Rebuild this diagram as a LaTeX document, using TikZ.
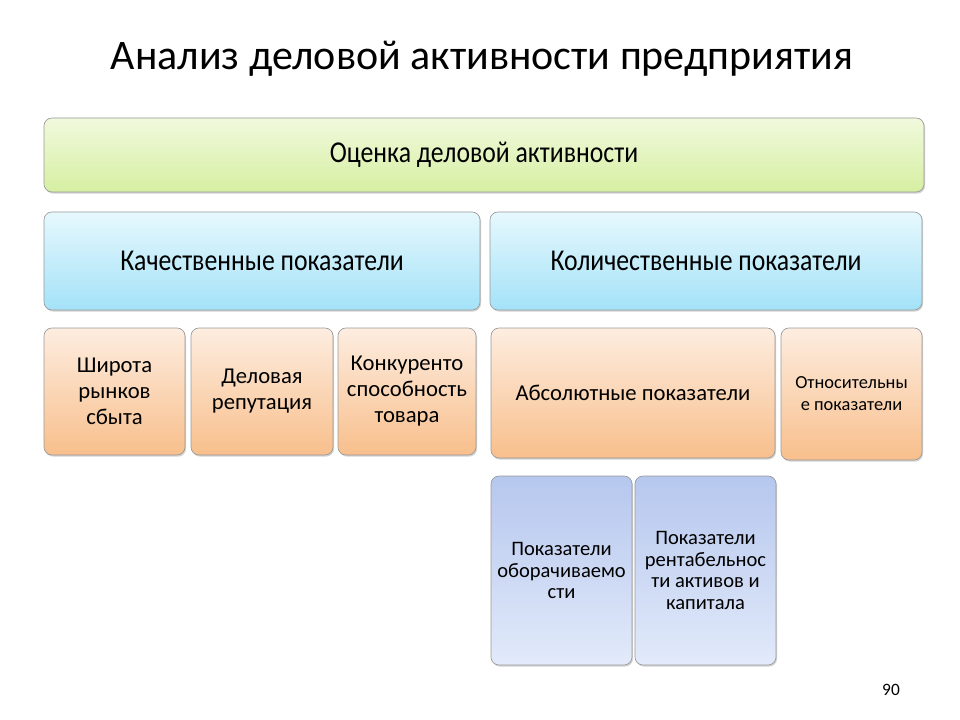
\documentclass[tikz,border=0pt]{standalone}
\usepackage{fontspec}
\setmainfont{Carlito}
\newfontfamily\narrowfont[FakeStretch=0.85]{Carlito}
\usetikzlibrary{positioning,shadows}

\definecolor{grntop}{HTML}{F1F9DD}
\definecolor{grnbot}{HTML}{D6EFA2}
\definecolor{blutop}{HTML}{E6F8FD}
\definecolor{blubot}{HTML}{A4E2F8}
\definecolor{ortop}{HTML}{FDEDE0}
\definecolor{orbot}{HTML}{F8BF8C}
\definecolor{vitop}{HTML}{B6C7EE}
\definecolor{vibot}{HTML}{E2EAFA}

\tikzset{
  box/.style={rounded corners=6pt, draw=gray!80, line width=0.5pt, shading=axis,
              drop shadow={shadow xshift=0.8pt, shadow yshift=-1.2pt, opacity=0.35},
              align=center, inner sep=2pt},
  grnbox/.style={box, top color=grntop, bottom color=grnbot},
  blubox/.style={box, top color=blutop, bottom color=blubot},
  orbox/.style={box, top color=ortop, bottom color=orbot},
  vibox/.style={box, top color=vitop, bottom color=vibot},
  headtxt/.style={font={\narrowfont\fontsize{22.7}{26}\selectfont}}
}

\begin{document}
\begin{tikzpicture}[x=0.75pt, y=-0.75pt]
  \useasboundingbox[fill=white] (0,0) rectangle (960,720);

  \node[font={\fontsize{31.5}{36}\selectfont}] (title) at (482,59) {Анализ деловой активности предприятия};

  \node[grnbox, headtxt, minimum width=660pt, minimum height=55.5pt] (ocenka) at (484,155)
    {Оценка деловой активности};

  \node[blubox, headtxt, minimum width=327pt, minimum height=73.5pt] (kach) at (262,261)
    {Качественные показатели};
  \node[blubox, headtxt, minimum width=324pt, minimum height=73.5pt] (kol) at (706,261)
    {Количественные показатели};

  % qualitative
  \node[orbox, font={\fontsize{17}{19.5}\selectfont}, minimum width=105.75pt, minimum height=95.25pt] (shir) at (114.5,391.5)
    {Широта\\рынков\\сбыта};
  \node[orbox, font={\fontsize{17}{19.5}\selectfont}, minimum width=106.5pt, minimum height=95.25pt] (delrep) at (262,391.5)
    {Деловая\\репутация};
  \node[orbox, font={\fontsize{17}{19.5}\selectfont}, minimum width=103.5pt, minimum height=95.25pt] (konk) at (407,391.5)
    {Конкуренто\\способность\\товара};

  % quantitative
  \node[orbox, font={\fontsize{17}{20}\selectfont}, minimum width=213pt, minimum height=97.5pt] (abs) at (633,393)
    {Абсолютные показатели};
  \node[orbox, font={\fontsize{13.8}{16.5}\selectfont}, minimum width=105.75pt, minimum height=99pt] (otn) at (851.5,394)
    {Относительны\\е показатели};

  \node[vibox, font={\fontsize{15.4}{16}\selectfont}, minimum width=105.75pt, minimum height=141.75pt] (obor) at (561.5,570.5)
    {Показатели\\оборачиваемо\\сти};
  \node[vibox, font={\fontsize{15.4}{16.3}\selectfont}, minimum width=105.75pt, minimum height=141.75pt] (rent) at (705.5,570.5)
    {Показатели\\рентабельнос\\ти активов и\\капитала};

  \node[font={\fontsize{13}{15}\selectfont}] (page) at (891,690) {90};
\end{tikzpicture}
\end{document}
